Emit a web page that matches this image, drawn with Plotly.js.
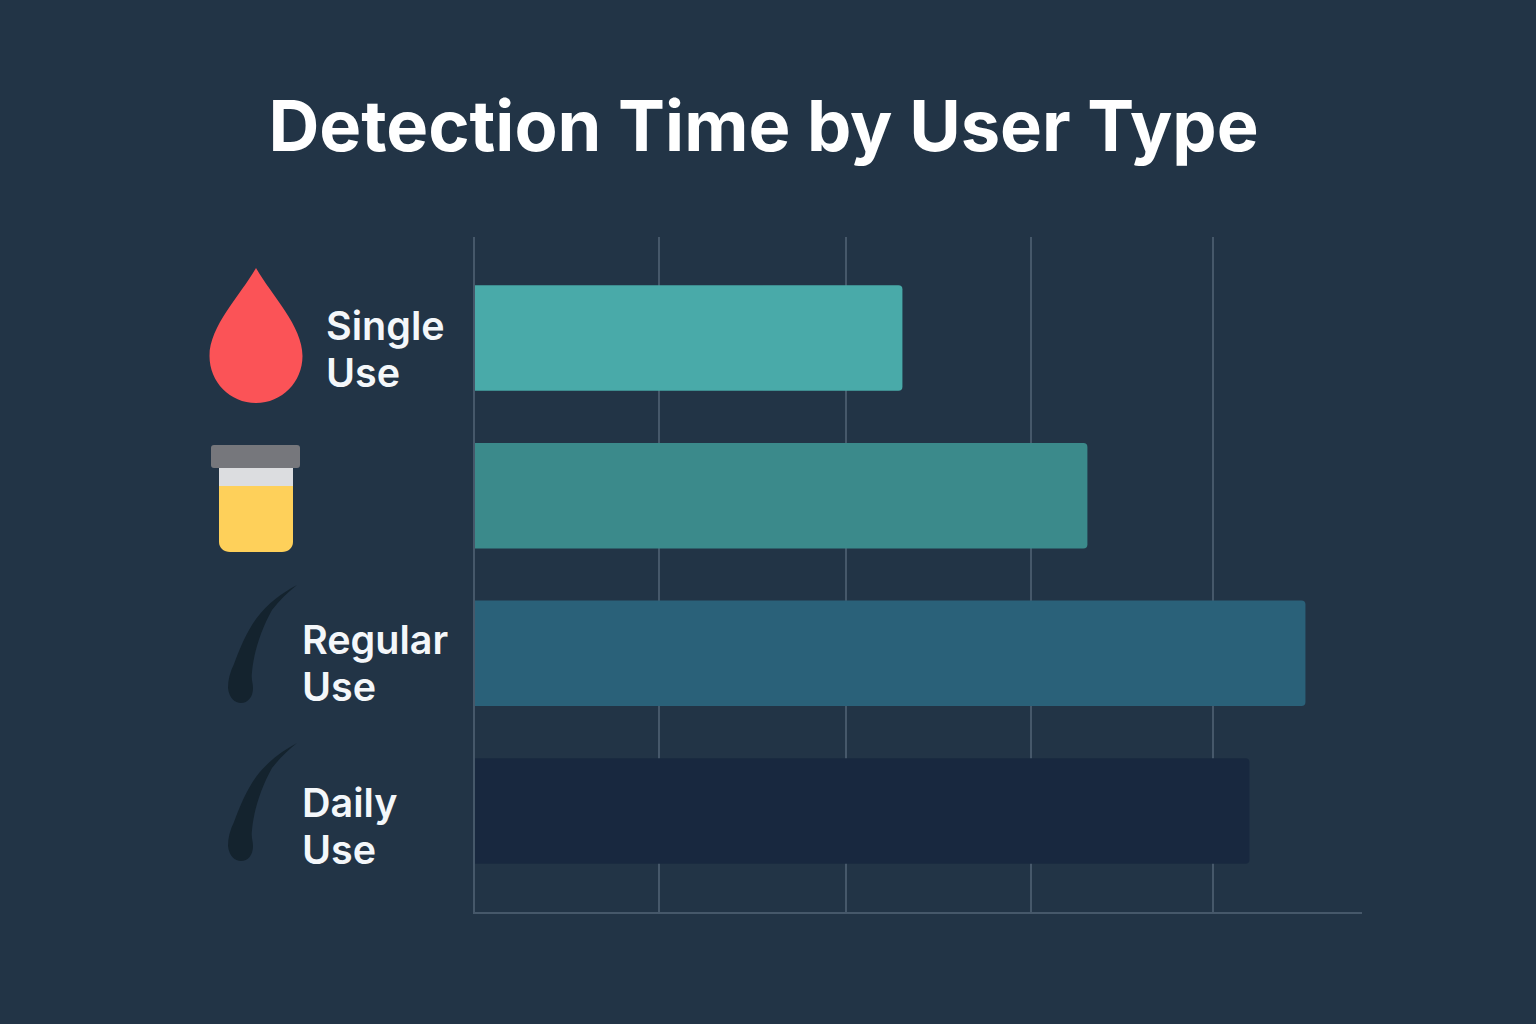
<!DOCTYPE html>
<html>
<head>
<meta charset="utf-8">
<script src="https://cdn.plot.ly/plotly-3.0.1.min.js"></script>
<style>html,body{margin:0;padding:0;background:#223446;}#c{width:1536px;height:1024px;}</style>
</head>
<body>
<div id="c"></div>
<script>
const chartTitle = "Detection Time by User Type";
const categories = ["Single Use", "Urine", "Regular Use", "Daily Use"];
const labelLines = [["Single", "Use"], [], ["Regular", "Use"], ["Daily", "Use"]];
const values = [2.313, 3.314, 4.494, 4.191];
const barColors = ["#49aaa9", "#3b8a8b", "#2a6179", "#18283f"];
const gridValues = [0.996, 2.007, 3.009, 3.994];

const L = 475, R = 1362, T = 237, B = 912;
const fx = px => (px - L) / (R - L);
const fy = py => (B - py) / (B - T);
function path(d, dy) {
  dy = dy || 0;
  return d.replace(/(-?[\d.]+),(-?[\d.]+)/g, (m, a, b) =>
    fx(+a).toFixed(5) + "," + fy(+b + dy).toFixed(5));
}
function shape(d, color, dy) {
  return {type: "path", xref: "paper", yref: "paper", path: path(d, dy),
          fillcolor: color, line: {width: 0}, layer: "above"};
}
const dropPath = "M256,268 C240,296 209.5,326 209.5,356 C209.5,382 230,403 256,403 C282,403 302.5,382 302.5,356 C302.5,326 272,296 256,268 Z";
const lidPath = "M214,445 L297,445 C299,445 300,446 300,448 L300,465 C300,467 299,468 297,468 L214,468 C212,468 211,467 211,465 L211,448 C211,446 212,445 214,445 Z";
const bandPath = "M219,468 L293,468 L293,487 L219,487 Z";
const urinePath = "M219,486 L293,486 L293,542 C293,548 288,552 282,552 L230,552 C224,552 219,548 219,542 Z";
const hairPath = "M297,585 C282,593 268,603 256,619 C246,633 240,648 234,664 C230,672 228,680 228,688 C229,698 235,703 241,703 C248,703 253,697 253,688 C253,682 251,680 252,672 C254,650 262,628 272,610 C280,600 288,592 297,585 Z";

const shapes = [
  shape(dropPath, "#fb5357"),
  shape(bandPath, "#dcdde0"),
  shape(urinePath, "#fed05a"),
  shape(lidPath, "#76777c"),
  shape(hairPath, "#14232e"),
  shape(hairPath, "#14232e", 158)
];

const labelX = [324, 0, 299.5, 299.5];
const labelY = [[326, 373], [], [640, 687], [803, 850]];
const annotations = [];
labelLines.forEach((lines, i) => lines.forEach((t, j) => annotations.push({
  text: t, xref: "paper", yref: "paper", x: fx(labelX[i]), y: fy(labelY[i][j]),
  xanchor: "left", yanchor: "middle", showarrow: false, align: "left",
  font: {family: "Inter, sans-serif", size: 39.5, color: "#f4f7fa", weight: 600}
})));

Plotly.newPlot("c", [{
  type: "bar", orientation: "h", x: values, y: categories,
  width: 0.669,
  marker: {color: barColors, line: {width: 0}, cornerradius: 4},
  hoverinfo: "skip"
}], {
  width: 1536, height: 1024,
  margin: {l: L, r: 1536 - R, t: T, b: 1024 - B, pad: 0},
  paper_bgcolor: "#223446", plot_bgcolor: "#223446",
  showlegend: false,
  title: {text: chartTitle, x: 763.5 / 1536, xanchor: "center", y: 1 - 126 / 1024, yanchor: "middle",
          font: {family: "Inter, sans-serif", size: 70.4, color: "#ffffff", weight: 700}},
  xaxis: {range: [0, 4.8], tickvals: gridValues, showticklabels: false, ticks: "",
          showgrid: true, gridcolor: "#46586a", gridwidth: 2, zeroline: false,
          showline: true, linecolor: "#46586a", linewidth: 2},
  yaxis: {type: "category", categoryorder: "array", categoryarray: categories,
          range: [3.64, -0.64], showticklabels: false, ticks: "", showgrid: false, zeroline: false,
          showline: true, linecolor: "#46586a", linewidth: 2},
  shapes: shapes, annotations: annotations
}, {displayModeBar: false, staticPlot: true});
</script>
</body>
</html>
